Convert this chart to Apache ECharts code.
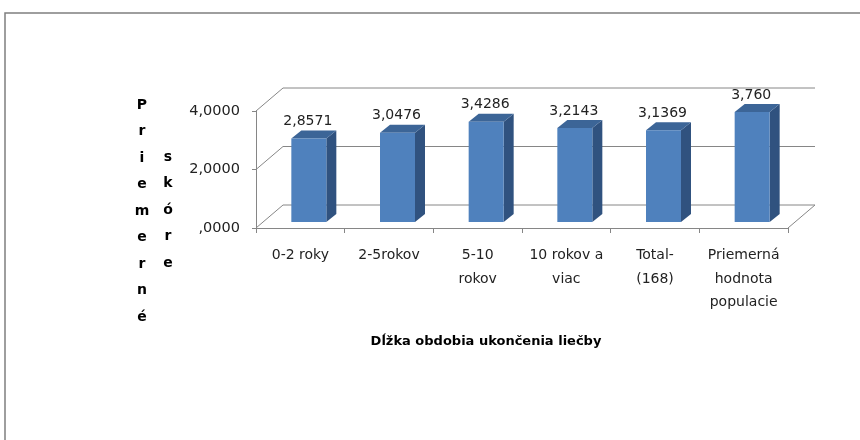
<!DOCTYPE html>
<html>
<head>
<meta charset="utf-8">
<script src="https://cdn.jsdelivr.net/npm/echarts@6/dist/echarts.min.js"></script>
<style>
  html, body { margin: 0; padding: 0; background: #fff; }
  #chart { width: 860px; height: 440px; }
</style>
</head>
<body>
<div id="chart"></div>
<script>
const categories = ['0-2 roky', '2-5rokov', '5-10\nrokov', '10 rokov a\nviac', 'Total-\n(168)', 'Priemerná\nhodnota\npopulacie'];
const values = [2.8571, 3.0476, 3.4286, 3.2143, 3.1369, 3.760];
const valueLabels = ['2,8571', '3,0476', '3,4286', '3,2143', '3,1369', '3,760'];
const wallLevels = [0, 2, 4];

const FONT = '"DejaVu Sans", sans-serif';
// depth of the back wall and of the bars (pseudo 3d like excel)
const wallDx = 27, wallDy = -23;
const barDx = 10, barDy = -8;
const barShiftX = 8.5, barShiftY = -6, barW = 35;

const chart = echarts.init(document.getElementById('chart'));

function renderWall(params, api) {
  const cs = params.coordSys;
  const v = api.value(0);
  const y = api.coord([0, v])[1];
  const x0 = cs.x, x1 = cs.x + cs.width;
  const line = { stroke: '#868686', lineWidth: 1 };
  const children = [
    { type: 'line', shape: { x1: x0, y1: y, x2: x0 + wallDx, y2: y + wallDy }, style: line },
    { type: 'line', shape: { x1: x0 + wallDx, y1: y + wallDy, x2: x1 + wallDx, y2: y + wallDy }, style: line }
  ];
  if (v === 0) {
    children.push({ type: 'line', shape: { x1: x1, y1: y, x2: x1 + wallDx, y2: y + wallDy }, style: line });
  }
  return { type: 'group', children: children };
}

function renderBar(params, api) {
  const i = api.value(0);
  const base = api.coord([i, 0]);
  const top = api.coord([i, api.value(1)]);
  const xl = base[0] + barShiftX - barW / 2;
  const xr = xl + barW;
  const yb = base[1] + barShiftY;
  const yt = top[1] + barShiftY;
  return {
    type: 'group',
    children: [
      { type: 'polygon', shape: { points: [[xr, yb], [xr + barDx, yb + barDy], [xr + barDx, yt + barDy], [xr, yt]] },
        style: { fill: '#30527f' } },
      { type: 'polygon', shape: { points: [[xl, yt], [xr, yt], [xr + barDx, yt + barDy], [xl + barDx, yt + barDy]] },
        style: { fill: '#3c6597' } },
      { type: 'rect', shape: { x: xl, y: yt, width: barW, height: yb - yt },
        style: { fill: '#4f81bd' } },
      { type: 'text', style: { text: valueLabels[i], x: xl + barW / 2 - 1, y: yt + barDy - 2,
        align: 'center', verticalAlign: 'bottom', fill: '#222', font: '14px ' + FONT } }
    ]
  };
}

chart.setOption({
  animation: false,
  grid: { left: 256, right: 72, top: 111, bottom: 212 },
  xAxis: {
    type: 'category',
    data: categories,
    axisLine: { lineStyle: { color: '#868686' } },
    axisTick: { show: true, length: 5, lineStyle: { color: '#868686' } },
    axisLabel: { color: '#222', fontFamily: FONT, fontSize: 14, lineHeight: 23.5, margin: 16, interval: 0 },
    splitLine: { show: false }
  },
  yAxis: {
    type: 'value',
    min: 0,
    max: 4,
    interval: 2,
    axisLine: { show: true, lineStyle: { color: '#868686' } },
    axisTick: { show: true, length: 4, lineStyle: { color: '#868686' } },
    axisLabel: {
      color: '#222', fontFamily: FONT, fontSize: 14.5, margin: 16,
      formatter: v => v === 0 ? ',0000' : v.toFixed(4).replace('.', ',')
    },
    splitLine: { show: false }
  },
  graphic: [
    { type: 'rect', shape: { x: 5, y: 13, width: 900, height: 500 }, style: { fill: 'none', stroke: '#7f7f7f', lineWidth: 1.5 }, silent: true },
    { type: 'text', style: { text: 'Priemerné'.split('').join('\n'), x: 142, y: 92, align: 'center', lineHeight: 26.5, fill: '#000', font: 'bold 14px ' + FONT } },
    { type: 'text', style: { text: 'skóre'.split('').join('\n'), x: 168, y: 144, align: 'center', lineHeight: 26.5, fill: '#000', font: 'bold 14px ' + FONT } },
    { type: 'text', style: { text: 'Dĺžka obdobia ukončenia liečby', x: 486, y: 342, align: 'center', verticalAlign: 'middle', fill: '#000', font: 'bold 13px ' + FONT } }
  ],
  series: [
    {
      type: 'custom',
      name: 'walls',
      renderItem: renderWall,
      data: wallLevels.map(v => [v]),
      encode: { y: 0 },
      z: 1,
      silent: true
    },
    {
      type: 'custom',
      name: 'bars',
      renderItem: renderBar,
      data: values.map((v, i) => [i, v]),
      encode: { x: 0, y: 1 },
      z: 3
    }
  ]
});
</script>
</body>
</html>
